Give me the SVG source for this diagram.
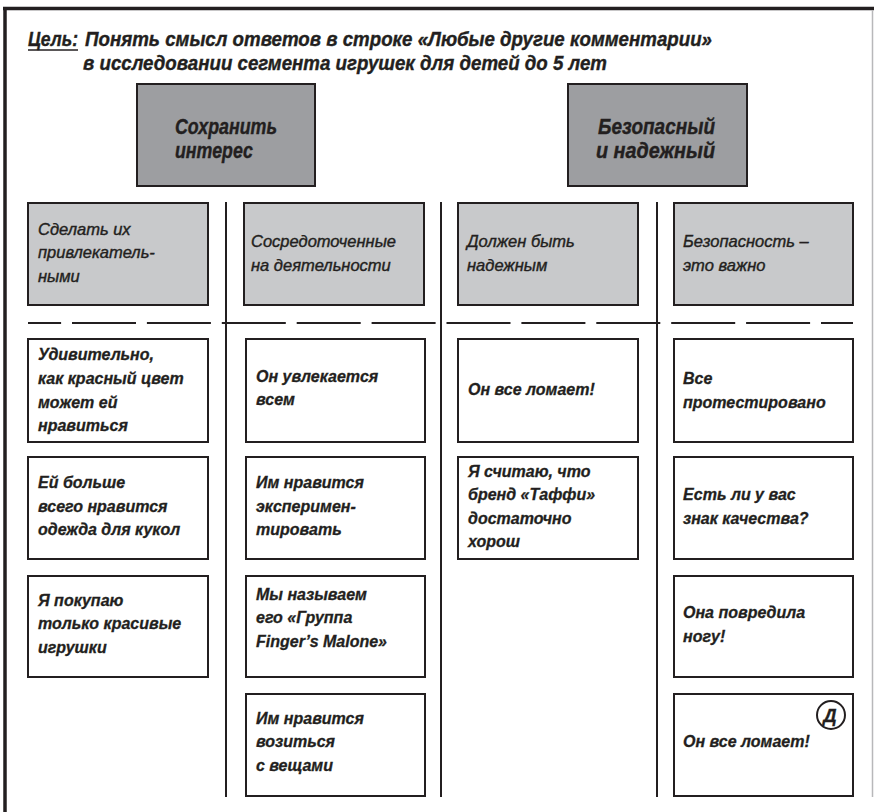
<svg xmlns="http://www.w3.org/2000/svg" width="875" height="812" viewBox="0 0 875 812">
  <style>
    .frame { stroke: #231f20; stroke-width: 3.5; fill: none; }
    .frame-r { stroke: #b8b8ba; stroke-width: 1.5; fill: none; }
    .cat { fill: #9d9ea1; stroke: #231f20; stroke-width: 2; }
    .head { fill: #c8c9cb; stroke: #231f20; stroke-width: 2; }
    .card { fill: #ffffff; stroke: #231f20; stroke-width: 2; }
    .div { stroke: #231f20; stroke-width: 2; fill: none; }
    .dash { stroke: #231f20; stroke-width: 2; fill: none; stroke-dasharray: 64 10.9; stroke-dashoffset: 30.9; }
    text { font-family: "Liberation Sans", "DejaVu Sans", sans-serif; font-style: italic; fill: #231f20; }
    .title { font-size: 21px; font-weight: bold; stroke: #231f20; stroke-width: 0.4; }
    .catt { font-size: 22px; font-weight: bold; stroke: #231f20; stroke-width: 0.4; }
    .ht { font-size: 16.5px; stroke: #231f20; stroke-width: 0.4; }
    .ct { font-size: 16px; font-weight: bold; stroke: #231f20; stroke-width: 0.3; }
    .mark { font-size: 18.5px; font-weight: bold; stroke: #231f20; stroke-width: 0.3; }
  </style>

  <!-- page frame -->
  <g id="frame">
    <line class="frame" x1="3" y1="8.5" x2="874" y2="8.5"/>
    <line class="frame" x1="5" y1="7" x2="5" y2="812"/>
    <line class="frame-r" x1="872.5" y1="10" x2="872.5" y2="797"/>
  </g>

  <!-- title -->
  <g id="title">
    <text class="title" x="28" y="46" textLength="50" lengthAdjust="spacingAndGlyphs">Цель:</text>
    <line x1="28" y1="50" x2="78" y2="50" stroke="#231f20" stroke-width="1.6"/>
    <text class="title" x="85" y="46" textLength="627" lengthAdjust="spacingAndGlyphs">Понять смысл ответов в строке «Любые другие комментарии»</text>
    <text class="title" x="83" y="70" textLength="524" lengthAdjust="spacingAndGlyphs">в исследовании сегмента игрушек для детей до 5 лет</text>
  </g>

  <!-- top categories -->
  <g id="cat-interest">
    <rect class="cat" x="137" y="84" width="178" height="102"/>
    <text class="catt" x="175" y="134" textLength="102" lengthAdjust="spacingAndGlyphs">Сохранить</text>
    <text class="catt" x="175" y="158" textLength="78" lengthAdjust="spacingAndGlyphs">интерес</text>
  </g>
  <g id="cat-safe">
    <rect class="cat" x="568" y="84" width="179" height="102"/>
    <text class="catt" x="598" y="134" textLength="117" lengthAdjust="spacingAndGlyphs">Безопасный</text>
    <text class="catt" x="596" y="158" textLength="119" lengthAdjust="spacingAndGlyphs">и надежный</text>
  </g>

  <!-- column dividers and separator -->
  <g id="connectors">
    <line class="div" x1="226" y1="202" x2="226" y2="797"/>
    <line class="div" x1="441" y1="202" x2="441" y2="797"/>
    <line class="div" x1="657" y1="202" x2="657" y2="797"/>
    <line class="dash" x1="28" y1="323" x2="853" y2="323"/>
  </g>

  <!-- column headers -->
  <g id="head-1">
    <rect class="head" x="28" y="203" width="180" height="102"/>
    <text class="ht" x="38" y="235">Сделать их</text>
    <text class="ht" x="38" y="258">привлекатель-</text>
    <text class="ht" x="38" y="282">ными</text>
  </g>
  <g id="head-2">
    <rect class="head" x="244" y="203" width="180" height="102"/>
    <text class="ht" x="251" y="247">Сосредоточенные</text>
    <text class="ht" x="251" y="271">на деятельности</text>
  </g>
  <g id="head-3">
    <rect class="head" x="458" y="203" width="180" height="102"/>
    <text class="ht" x="467" y="247">Должен быть</text>
    <text class="ht" x="467" y="271">надежным</text>
  </g>
  <g id="head-4">
    <rect class="head" x="674" y="203" width="179" height="102"/>
    <text class="ht" x="683" y="247">Безопасность –</text>
    <text class="ht" x="683" y="271">это важно</text>
  </g>

  <!-- column 1 cards -->
  <g id="c1-1">
    <rect class="card" x="28" y="339" width="180" height="103"/>
    <text class="ct" x="38" y="360">Удивительно,</text>
    <text class="ct" x="38" y="384">как красный цвет</text>
    <text class="ct" x="38" y="408">может ей</text>
    <text class="ct" x="38" y="431">нравиться</text>
  </g>
  <g id="c1-2">
    <rect class="card" x="28" y="457" width="180" height="102"/>
    <text class="ct" x="38" y="488">Ей больше</text>
    <text class="ct" x="38" y="512">всего нравится</text>
    <text class="ct" x="38" y="535">одежда для кукол</text>
  </g>
  <g id="c1-3">
    <rect class="card" x="28" y="576" width="180" height="101"/>
    <text class="ct" x="38" y="606">Я покупаю</text>
    <text class="ct" x="38" y="629">только красивые</text>
    <text class="ct" x="38" y="653">игрушки</text>
  </g>

  <!-- column 2 cards -->
  <g id="c2-1">
    <rect class="card" x="246" y="339" width="179" height="103"/>
    <text class="ct" x="256" y="382">Он увлекается</text>
    <text class="ct" x="256" y="405">всем</text>
  </g>
  <g id="c2-2">
    <rect class="card" x="246" y="457" width="179" height="102"/>
    <text class="ct" x="256" y="488">Им нравится</text>
    <text class="ct" x="256" y="512">эксперимен-</text>
    <text class="ct" x="256" y="535">тировать</text>
  </g>
  <g id="c2-3">
    <rect class="card" x="246" y="576" width="179" height="101"/>
    <text class="ct" x="256" y="600">Мы называем</text>
    <text class="ct" x="256" y="623">его «Группа</text>
    <text class="ct" x="256" y="647">Finger’s Malone»</text>
  </g>
  <g id="c2-4">
    <rect class="card" x="246" y="694" width="179" height="102"/>
    <text class="ct" x="256" y="724">Им нравится</text>
    <text class="ct" x="256" y="747">возиться</text>
    <text class="ct" x="256" y="771">с вещами</text>
  </g>

  <!-- column 3 cards -->
  <g id="c3-1">
    <rect class="card" x="458" y="339" width="180" height="103"/>
    <text class="ct" x="468" y="395">Он все ломает!</text>
  </g>
  <g id="c3-2">
    <rect class="card" x="458" y="457" width="180" height="102"/>
    <text class="ct" x="468" y="477">Я считаю, что</text>
    <text class="ct" x="468" y="500">бренд «Таффи»</text>
    <text class="ct" x="468" y="524">достаточно</text>
    <text class="ct" x="468" y="547">хорош</text>
  </g>

  <!-- column 4 cards -->
  <g id="c4-1">
    <rect class="card" x="674" y="339" width="179" height="103"/>
    <text class="ct" x="683" y="384">Все</text>
    <text class="ct" x="683" y="408">протестировано</text>
  </g>
  <g id="c4-2">
    <rect class="card" x="674" y="457" width="179" height="102"/>
    <text class="ct" x="683" y="500">Есть ли у вас</text>
    <text class="ct" x="683" y="524">знак качества?</text>
  </g>
  <g id="c4-3">
    <rect class="card" x="674" y="576" width="179" height="101"/>
    <text class="ct" x="683" y="618">Она повредила</text>
    <text class="ct" x="683" y="642">ногу!</text>
  </g>
  <g id="c4-4">
    <rect class="card" x="674" y="694" width="179" height="102"/>
    <text class="ct" x="683" y="747">Он все ломает!</text>
    <circle cx="831" cy="715" r="14" fill="none" stroke="#231f20" stroke-width="2"/>
    <text class="mark" x="830" y="721.5" text-anchor="middle">Д</text>
  </g>
</svg>
